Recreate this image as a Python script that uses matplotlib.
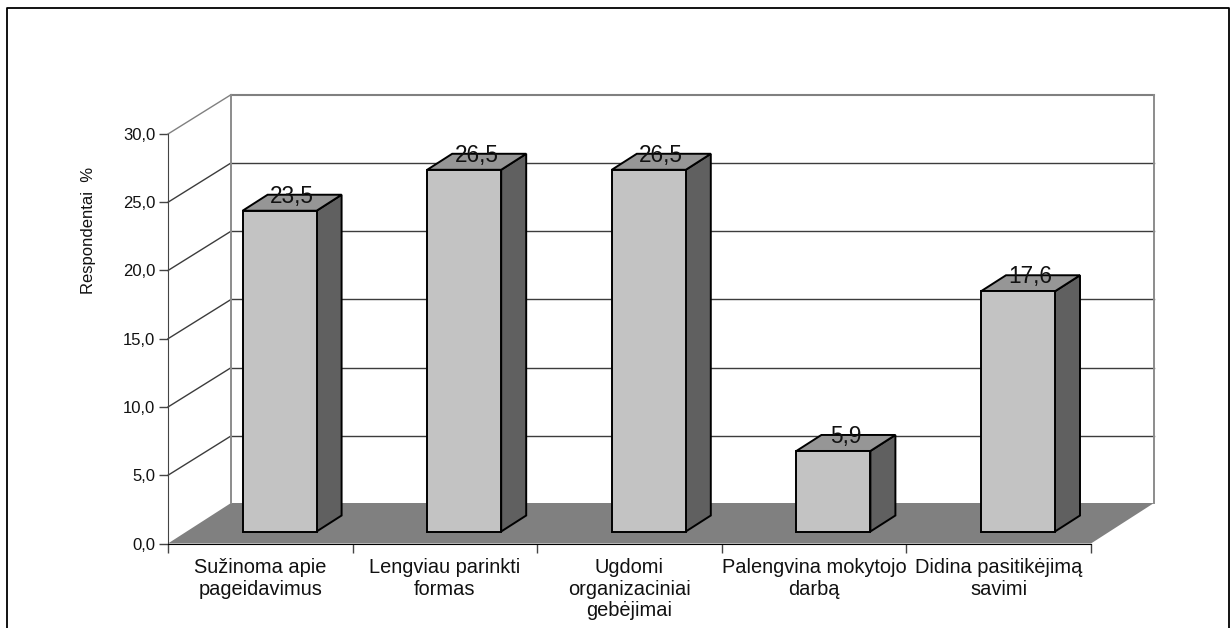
# -*- coding: utf-8 -*-
import matplotlib
matplotlib.use("Agg")
import matplotlib.pyplot as plt
from matplotlib.lines import Line2D
from matplotlib.patches import Polygon

plt.rcParams['font.family'] = ['Liberation Sans', 'DejaVu Sans']

categories = ["Sužinoma apie\npageidavimus", "Lengviau parinkti\nformas",
              "Ugdomi\norganizaciniai\ngebėjimai", "Palengvina mokytojo\ndarbą",
              "Didina pasitikėjimą\nsavimi"]
values = [23.5, 26.5, 26.5, 5.9, 17.6]
value_labels = ["23,5", "26,5", "26,5", "5,9", "17,6"]
levels = [0, 5, 10, 15, 20, 25, 30]
level_labels = ["0,0", "5,0", "10,0", "15,0", "20,0", "25,0", "30,0"]

W, H = 1232, 628
left, right, top, bottom = 168, 1091, 134, 543.5
px_x = (right - left) / 5.0
px_y = (bottom - top) / 30.0

# oblique depth of the box and of the bars, in data units
depth_x = 63 / px_x
depth_y = 40.5 / px_y
bar_w = 74 / px_x
bar_dx = 25 / px_x
bar_dy = 16 / px_y
bar_x0 = 74.6 / px_x
bar_y0 = 12 / px_y

fig = plt.figure(figsize=(W / 100, H / 100), dpi=100)
ax = fig.add_axes([left / W, (H - bottom) / H, (right - left) / W, (bottom - top) / H])
ax.set_xlim(0, 5)
ax.set_ylim(0, 30)
ax.patch.set_visible(False)

# outer frame, open at the bottom
fx = lambda p: p / W
fy = lambda p: 1 - p / H
fig.add_artist(Line2D([fx(7), fx(7), fx(1229), fx(1229)], [0, fy(8), fy(8), 0], color="black", lw=1.3))

# floor
ax.add_patch(Polygon([(0, 0), (5, 0), (5 + depth_x, depth_y), (depth_x, depth_y)],
                     facecolor="#808080", edgecolor="none", zorder=1, clip_on=False))

# walls and grid
for lev in levels[1:]:
    col = "#808080" if lev == 30 else "#3c3c3c"
    lw = 1.5 if lev == 30 else 1.0
    ax.plot([0, depth_x], [lev, lev + depth_y * 0.97], color=col, lw=1.0, zorder=2, clip_on=False)
    ax.plot([depth_x, 5 + depth_x], [lev + depth_y * 0.97] * 2, color=col, lw=lw, zorder=2, clip_on=False)
for x in [depth_x, 5 + depth_x]:
    ax.plot([x, x], [depth_y, 30 + depth_y * 0.97], color="#8c8c8c", lw=1.4, zorder=2, clip_on=False)

# bars
for i, v in enumerate(values):
    x0 = i + bar_x0
    x1 = x0 + bar_w
    y0 = bar_y0
    y1 = y0 + v
    ec = dict(edgecolor="black", linewidth=1.4, joinstyle="miter", zorder=3, clip_on=False)
    ax.add_patch(Polygon([(x1, y0), (x1 + bar_dx, y0 + bar_dy), (x1 + bar_dx, y1 + bar_dy), (x1, y1)],
                         facecolor="#606060", **ec))
    ax.add_patch(Polygon([(x0, y1), (x1, y1), (x1 + bar_dx, y1 + bar_dy), (x0 + bar_dx, y1 + bar_dy)],
                         facecolor="#969696", **ec))
    ax.add_patch(Polygon([(x0, y0), (x1, y0), (x1, y1), (x0, y1)], facecolor="#c3c3c3", **ec))
    ax.text((x0 + x1 + bar_dx) / 2, y1 + bar_dy / 2, value_labels[i], ha="center", va="baseline",
            fontsize=16.3, color="#111111", zorder=4)

for s in ["top", "right"]:
    ax.spines[s].set_visible(False)
ax.spines["left"].set_color("#444444")
ax.spines["left"].set_zorder(5)
ax.spines["bottom"].set_zorder(5)

ax.set_yticks(levels)
ax.set_yticklabels(level_labels, fontsize=12, color="#111111")
ax.tick_params(axis="y", length=6.5, width=1.0, pad=2.5, color="#444444")

ax.set_xticks(range(6))
ax.set_xticklabels([])
ax.tick_params(axis="x", which="major", length=6.5, width=1.0, color="#444444")
ax.set_xticks([i + 0.5 for i in range(5)], minor=True)
ax.set_xticklabels(categories, minor=True, fontsize=14.4, color="#111111", linespacing=1.17)
ax.tick_params(axis="x", which="minor", length=0, pad=10.5)

ax.set_ylabel("Respondentai  %", fontsize=12, color="#111111")
ax.yaxis.set_label_coords((95.5 - left) / (right - left), (bottom - 230) / (bottom - top))

fig.savefig("out.png", dpi=100)
